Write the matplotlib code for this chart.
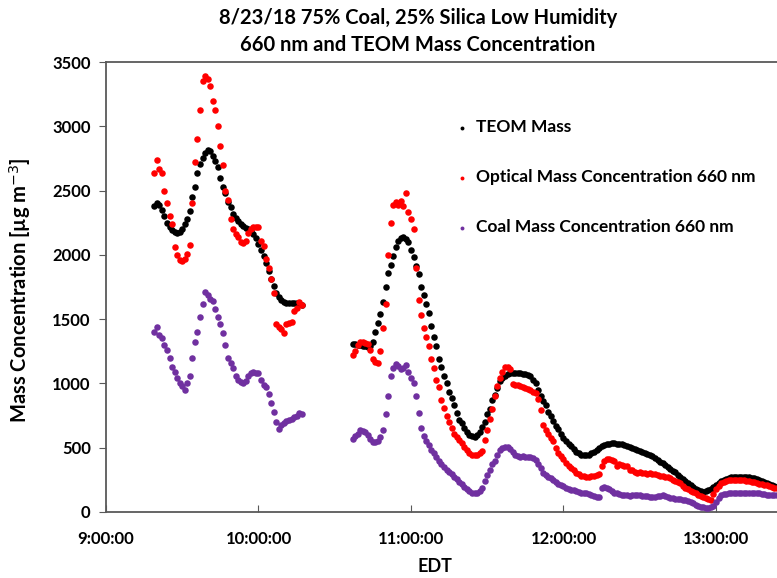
import matplotlib
matplotlib.use("Agg")
import matplotlib.pyplot as plt
import matplotlib.dates as mdates
import numpy as np
import pandas as pd

# sample times, minutes after 9:00 EDT (one reading per minute)
seg1_minutes = np.arange(19, 78)
seg2_minutes = np.arange(97, 265)

# first sampling period (9:19 - 10:17)
teom_1 = [2380, 2400, 2390, 2350, 2300, 2250, 2215, 2190, 2175, 2168,
          2175, 2200, 2240, 2280, 2345, 2450, 2530, 2640, 2710, 2750,
          2790, 2815, 2805, 2770, 2730, 2685, 2600, 2530, 2485, 2410,
          2370, 2320, 2285, 2260, 2240, 2225, 2210, 2200, 2185, 2165,
          2130, 2085, 2035, 1990, 1935, 1875, 1810, 1755, 1705, 1670,
          1648, 1635, 1628, 1624, 1622, 1625, 1628, 1620, 1610]
optical_1 = [2640, 2740, 2670, 2640, 2500, 2400, 2300, 2240, 2060, 2000,
             1960, 1950, 1970, 2010, 2080, 2400, 2720, 2900, 3130, 3350,
             3390, 3370, 3310, 3200, 3130, 3000, 2850, 2700, 2500, 2430,
             2280, 2200, 2165, 2140, 2100, 2090, 2110, 2170, 2200, 2215,
             2220, 2220, 2110, 2070, 1970, 1900, 1810, 1700, 1460, 1440,
             1420, 1395, 1460, 1470, 1480, 1560, 1590, 1630, 1610]
coal_1 = [1400, 1440, 1380, 1350, 1300, 1260, 1200, 1130, 1090, 1040,
          1000, 980, 950, 1000, 1060, 1200, 1320, 1400, 1520, 1620,
          1710, 1690, 1660, 1640, 1580, 1520, 1460, 1390, 1300, 1200,
          1160, 1120, 1060, 1030, 1010, 1000, 1020, 1060, 1080, 1090,
          1085, 1080, 1030, 990, 970, 920, 850, 780, 700, 645,
          680, 695, 705, 715, 720, 735, 750, 770, 760]

# second sampling period (10:37 - 13:24)
teom_2 = [1310, 1305, 1300, 1298, 1292, 1288, 1287, 1290, 1320, 1400,
          1470, 1540, 1630, 1750, 1860, 1920, 1990, 2060, 2105, 2135,
          2140, 2125, 2100, 2040, 1980, 1910, 1850, 1750, 1690, 1615,
          1550, 1450, 1360, 1290, 1190, 1130, 1060, 1000, 930, 885,
          830, 770, 715, 690, 650, 620, 600, 588, 586, 600,
          625, 660, 700, 760, 800, 870, 910, 965, 1020, 1040,
          1060, 1070, 1078, 1082, 1083, 1082, 1080, 1076, 1072, 1065,
          1055, 1030, 1000, 950, 900, 860, 830, 780, 745, 710,
          670, 645, 610, 575, 550, 530, 510, 490, 470, 455,
          445, 440, 440, 445, 458, 470, 485, 500, 510, 520,
          527, 531, 534, 535, 532, 530, 526, 520, 512, 505,
          498, 490, 482, 472, 465, 455, 448, 440, 432, 420,
          405, 390, 378, 368, 350, 335, 320, 308, 290, 272,
          255, 238, 222, 208, 195, 182, 172, 163, 158, 160,
          168, 178, 192, 208, 222, 238, 250, 260, 266, 270,
          273, 275, 275, 274, 273, 272, 270, 266, 262, 258,
          252, 242, 232, 224, 215, 208, 202, 197]
optical_2 = [1220, 1250, 1300, 1320, 1325, 1318, 1310, 1260, 1190, 1170,
             1160, 1250, 1430, 1620, 2000, 2250, 2390, 2410, 2390, 2420,
             2380, 2480, 2330, 2280, 2200, 1900, 1650, 1530, 1430, 1360,
             1290, 1190, 1120, 1030, 970, 870, 810, 750, 700, 650,
             610, 586, 560, 534, 505, 482, 460, 443, 440, 443,
             455, 475, 560, 640, 720, 800, 900, 980, 1040, 1090,
             1125, 1131, 1110, 995, 990, 985, 980, 975, 965, 955,
             945, 935, 925, 880, 790, 680, 640, 610, 575, 555,
             500, 460, 432, 410, 380, 360, 340, 325, 305, 292,
             282, 278, 275, 275, 278, 282, 288, 295, 360, 395,
             415, 410, 405, 400, 360, 375, 365, 355, 360, 330,
             325, 312, 305, 310, 300, 302, 298, 300, 295, 292,
             285, 282, 280, 276, 270, 262, 252, 240, 230, 222,
             205, 190, 175, 165, 155, 145, 135, 125, 118, 108,
             100, 95, 140, 175, 205, 225, 235, 240, 245, 248,
             250, 250, 248, 250, 245, 240, 238, 236, 232, 225,
             220, 215, 212, 210, 200, 192, 188, 184]
coal_2 = [565, 590, 610, 635, 630, 622, 600, 565, 548, 545,
          555, 580, 640, 760, 900, 1060, 1120, 1155, 1135, 1110,
          1120, 1140, 1090, 1040, 1000, 900, 770, 650, 590, 550,
          520, 485, 455, 430, 400, 370, 350, 325, 310, 295,
          275, 255, 235, 215, 195, 178, 160, 148, 145, 150,
          162, 190, 240, 290, 330, 370, 400, 445, 480, 500,
          505, 505, 490, 465, 445, 435, 430, 432, 428, 425,
          425, 418, 405, 375, 345, 300, 285, 270, 262, 245,
          230, 220, 212, 205, 190, 178, 172, 168, 162, 155,
          150, 148, 145, 140, 135, 125, 120, 118, 190, 195,
          190, 175, 160, 148, 145, 140, 135, 132, 130, 125,
          130, 132, 135, 130, 128, 125, 122, 120, 118, 120,
          125, 128, 130, 128, 120, 112, 105, 102, 100, 98,
          95, 92, 88, 78, 68, 58, 50, 42, 35, 30,
          30, 35, 45, 80, 110, 130, 138, 142, 145, 146,
          146, 145, 145, 145, 145, 145, 146, 146, 145, 145,
          144, 142, 140, 136, 134, 132, 132, 132]

series_labels = ["TEOM Mass", "Optical Mass Concentration 660 nm",
                 "Coal Mass Concentration 660 nm"]
series_colors = ["black", "#ff0000", "#7030a0"]

day = pd.Timestamp("2018-08-23 09:00")
t1 = day + pd.to_timedelta(seg1_minutes, unit="min")
t2 = day + pd.to_timedelta(seg2_minutes, unit="min")
t_all = t1.append(t2)

plt.rcParams["font.family"] = ["Lato", "DejaVu Sans"]

fig = plt.figure(figsize=(7.77, 5.78), dpi=100)
ax = fig.add_axes([0.1364, 0.1142, 0.8636, 0.7785])

all_series = [teom_1 + teom_2, optical_1 + optical_2, coal_1 + coal_2]
for values, label, color in zip(all_series, series_labels, series_colors):
    ax.scatter(t_all, values, s=22, color=color, label=label, linewidths=0, zorder=3)

ax.set_xlim(day, day + pd.Timedelta(minutes=264))
ax.set_ylim(0, 3500)
ax.set_yticks(np.arange(0, 3501, 500))
ax.xaxis.set_major_locator(mdates.HourLocator())
ax.xaxis.set_major_formatter(mdates.DateFormatter("%-H:%M:%S"))

for side in ["left", "bottom", "top"]:
    ax.spines[side].set_color("#595959")
    ax.spines[side].set_linewidth(1.3)
ax.spines["right"].set_visible(False)
ax.tick_params(axis="x", direction="in", length=5, color="#595959",
               labelsize=12, pad=14)
ax.tick_params(axis="y", direction="out", length=5, color="#595959",
               labelsize=12, pad=6)
for lab in ax.get_xticklabels() + ax.get_yticklabels():
    lab.set_fontweight("bold")

ax.set_xlabel("EDT", fontsize=13, fontweight="bold", va="center")
ax.xaxis.set_label_coords((435 - 106) / 671, -(567 - 512) / 450)
ax.set_ylabel("Mass Concentration [µg m$^{-3}$]", fontsize=14.5, fontweight="bold",
              va="center")
ax.yaxis.set_label_coords(-(106 - 20) / 671, (512 - 290) / 450)

fig.text(418 / 777, 1 - 18 / 578, "8/23/18 75% Coal, 25% Silica Low Humidity",
         ha="center", va="center", fontsize=14.5, fontweight="bold")
fig.text(418 / 777, 1 - 45 / 578, "660 nm and TEOM Mass Concentration",
         ha="center", va="center", fontsize=14.5, fontweight="bold")

ax.legend(loc="upper left", bbox_to_anchor=(0.508, 0.888), frameon=False,
          prop={"size": 12.5, "weight": "bold"}, markerscale=0.6,
          handletextpad=0.3, labelspacing=1.95, handlelength=1.0,
          borderaxespad=0)

fig.savefig("out.png", dpi=100)
